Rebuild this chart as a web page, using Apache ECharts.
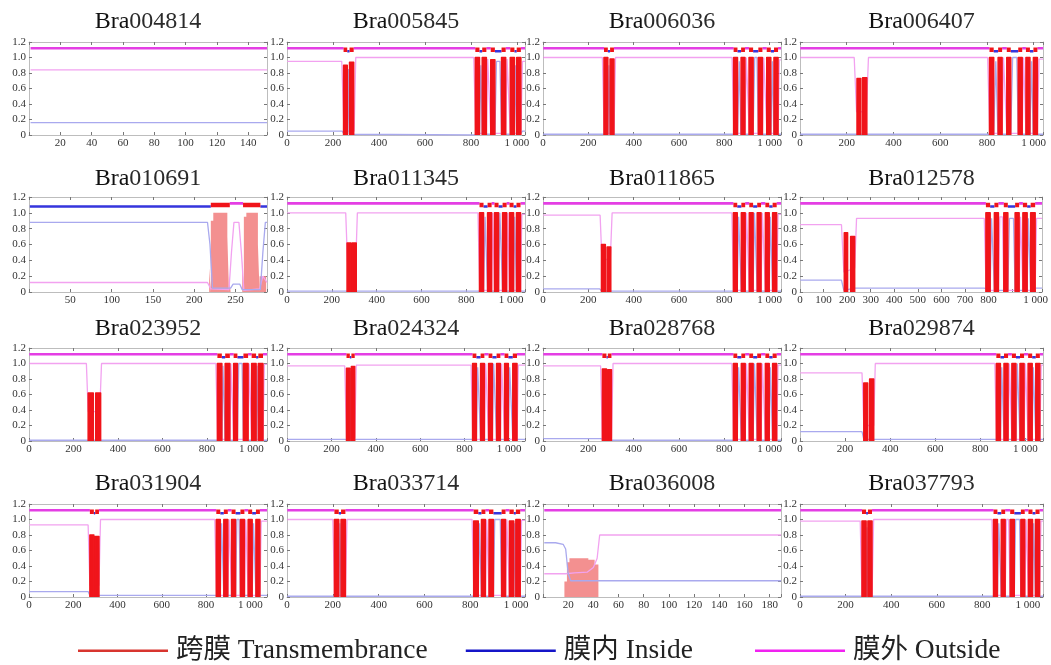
<!DOCTYPE html>
<html>
<head>
<meta charset="utf-8">
<script src="https://cdn.jsdelivr.net/npm/echarts@6/dist/echarts.min.js"></script>
<style>
  html, body { margin: 0; padding: 0; background: #fff; }
  #chart { width: 1051px; height: 665px; }
</style>
</head>
<body>
<div id="chart"></div>
<script>
// ---- TMHMM posterior probability profiles, one panel per gene ----

const genes = ['Bra004814', 'Bra005845', 'Bra006036', 'Bra006407',
               'Bra010691', 'Bra011345', 'Bra011865', 'Bra012578',
               'Bra023952', 'Bra024324', 'Bra028768', 'Bra029874',
               'Bra031904', 'Bra033714', 'Bra036008', 'Bra037793'];

// protein length (x-axis extent), x tick spacing and tick labels left blank
const seqLength = [152, 1035, 1050, 1040, 288, 1062, 1050, 1027,
                   1070, 1072, 1050, 1078, 1075, 1039, 189, 1066];
const xTickStep = [20, 200, 200, 200, 50, 200, 200, 100,
                   200, 200, 200, 200, 200, 200, 20, 200];
const xTickHidden = [[0], [], [], [], [0], [], [], [900],
                     [], [], [], [], [], [], [0], []];

// transmembrane probability: [start, end, probability]
const tmProb = [
  [],
  [[246,262,0.9],[272,290,0.94],[819,837,1.0],[849,867,1.0],[886,904,0.97],[933,951,1.0],[971,989,1.0],[999,1017,1.0]],
  [[269,286,1.0],[296,313,0.98],[841,858,1.0],[874,891,1.0],[909,927,1.0],[950,968,1.0],[987,1005,1.0],[1019,1037,1.0]],
  [[244,260,0.73],[268,286,0.74],[811,829,1.0],[848,865,1.0],[885,902,1.0],[934,951,1.0],[967,984,1.0],[999,1016,1.0]],
  [[218,220,0.3],[220,223,0.9],[223,240,1.0],[240,242,0.7],[242,244,0.2],[258,260,0.4],[260,263,0.95],[263,277,1.0],[277,279,0.6],[279,287,0.2]],
  [[268,285,0.62],[291,309,0.62],[859,877,1.0],[895,913,1.0],[926,944,1.0],[962,980,1.0],[993,1011,1.0],[1024,1042,1.0]],
  [[258,275,0.6],[283,299,0.57],[840,857,1.0],[875,892,1.0],[910,927,1.0],[945,962,1.0],[981,998,1.0],[1013,1031,1.0]],
  [[188,202,0.75],[215,232,0.7],[789,807,1.0],[825,842,1.0],[865,882,1.0],[913,930,1.0],[946,964,1.0],[979,998,1.0]],
  [[266,289,0.62],[300,322,0.62],[847,867,1.0],[882,903,1.0],[920,937,1.0],[964,985,1.0],[1001,1021,1.0],[1031,1052,1.0]],
  [[268,283,0.94],[290,305,0.96],[836,853,1.0],[872,889,1.0],[908,925,1.0],[944,961,1.0],[980,997,1.0],[1017,1036,1.0]],
  [[262,280,0.93],[286,302,0.92],[840,857,1.0],[875,892,1.0],[910,927,1.0],[945,962,1.0],[981,998,1.0],[1013,1031,1.0]],
  [[283,300,0.75],[309,327,0.8],[871,889,1.0],[905,923,1.0],[940,958,1.0],[976,994,1.0],[1012,1030,1.0],[1046,1064,1.0]],
  [[275,293,0.8],[299,316,0.78],[846,864,1.0],[880,898,1.0],[915,933,1.0],[955,973,1.0],[990,1008,1.0],[1025,1043,1.0]],
  [[207,226,1.0],[236,255,1.0],[815,835,0.98],[849,866,1.0],[882,901,1.0],[937,954,1.0],[971,990,0.98],[999,1018,1.0]],
  [[9,17,0.02],[17,19,0.2],[19,21,0.45],[21,36,0.5],[36,41,0.48],[41,44,0.42]],
  [[272,290,0.98],[298,316,0.98],[849,866,1.0],[883,900,1.0],[922,940,1.0],[969,986,1.0],[1002,1020,1.0],[1033,1051,1.0]]
];

// predicted helices shown in the topology bar, and the side of the N-terminus
const topology = [
  [],
  [[246,262],[272,290],[819,837],[849,867],[886,904],[933,951],[971,989],[999,1017]],
  [[269,286],[296,313],[841,858],[874,891],[909,927],[950,968],[987,1005],[1019,1037]],
  [[811,829],[848,865],[885,902],[934,951],[967,984],[999,1016]],
  [[220,243],[259,280]],
  [[859,877],[895,913],[926,944],[962,980],[993,1011],[1024,1042]],
  [[840,857],[875,892],[910,927],[945,962],[981,998],[1013,1031]],
  [[789,807],[825,842],[865,882],[913,930],[946,964],[979,998]],
  [[847,867],[882,903],[920,937],[964,985],[1001,1021],[1031,1052]],
  [[268,283],[290,305],[836,853],[872,889],[908,925],[944,961],[980,997],[1017,1036]],
  [[262,280],[286,302],[840,857],[875,892],[910,927],[945,962],[981,998],[1013,1031]],
  [[871,889],[905,923],[940,958],[976,994],[1012,1030],[1046,1064]],
  [[275,293],[299,316],[846,864],[880,898],[915,933],[955,973],[990,1008],[1025,1043]],
  [[207,226],[236,255],[815,835],[849,866],[882,901],[937,954],[971,990],[999,1018]],
  [],
  [[272,290],[298,316],[849,866],[883,900],[922,940],[969,986],[1002,1020],[1033,1051]]
];
const nTermSide = ['o','o','o','o','i','o','o','o','o','o','o','o','o','o','o','o'];

// outside probability curve: [residue, probability]
const outsideProb = [
  [[1,0.84],[152,0.84]],
  [[1,0.95],[238,0.95],[248,0.05],[292,0.05],[299,1],[812,1],[821,0.02],[867,0.02],[873,0.98],[880,0.98],[886,0.02],[951,0.02],[957,0.98],[965,0.98],[971,0.02],[1017,0.02],[1024,0.95],[1035,0.95]],
  [[1,1],[262,1],[270,0.02],[313,0.02],[320,1],[834,1],[842,0.02],[891,0.02],[897,1],[904,1],[910,0.02],[968,0.02],[974,1],[982,1],[988,0.02],[1037,0.02],[1043,0.97],[1050,0.97]],
  [[1,1],[232,1],[242,0.3],[284,0.3],[293,1],[803,1],[812,0.02],[865,0.02],[871,1],[879,1],[885,0.02],[951,0.02],[957,1],[962,1],[967,0.02],[1016,0.02],[1023,0.98],[1040,0.98]],
  [[1,0.12],[216,0.12],[220,0.04],[242,0.03],[245,0.5],[248,0.88],[254,0.88],[257,0.5],[260,0.02],[279,0.04],[283,0.2],[288,0.12]],
  [[1,1],[262,1],[270,0.38],[307,0.38],[314,1],[852,1],[860,0.02],[913,0.02],[918,1],[922,1],[926,0.02],[980,0.02],[985,1],[989,1],[993,0.02],[1042,0.02],[1048,0.98],[1062,0.98]],
  [[1,0.97],[252,0.97],[260,0.4],[297,0.42],[305,1],[833,1],[841,0.02],[892,0.02],[898,1],[904,1],[910,0.02],[962,0.02],[968,1],[975,1],[981,0.02],[1031,0.02],[1037,0.98],[1050,0.98]],
  [[1,0.85],[176,0.85],[186,0.25],[232,0.3],[240,0.93],[782,0.93],[790,0.02],[842,0.02],[848,0.95],[859,0.95],[865,0.02],[930,0.02],[936,0.95],[940,0.95],[946,0.02],[998,0.02],[1004,0.93],[1027,0.93]],
  [[1,1],[258,1],[266,0.38],[318,0.38],[326,1],[840,1],[848,0.02],[903,0.02],[908,1],[915,1],[920,0.02],[985,0.02],[990,1],[996,1],[1001,0.02],[1052,0.02],[1058,0.99],[1070,0.99]],
  [[1,0.97],[260,0.97],[268,0.04],[305,0.04],[312,0.98],[829,0.98],[837,0.02],[889,0.02],[895,1],[902,1],[908,0.02],[961,0.02],[967,1],[974,1],[980,0.02],[1036,0.02],[1042,0.98],[1072,0.98]],
  [[1,0.97],[254,0.97],[262,0.04],[302,0.04],[309,1],[833,1],[841,0.02],[892,0.02],[898,1],[904,1],[910,0.02],[962,0.02],[968,1],[975,1],[981,0.02],[1031,0.02],[1037,0.98],[1050,0.98]],
  [[1,0.88],[275,0.88],[283,0.2],[327,0.2],[334,1],[864,1],[872,0.02],[923,0.02],[929,1],[934,1],[940,0.02],[994,0.02],[1000,1],[1006,1],[1012,0.02],[1064,0.02],[1070,0.98],[1078,0.98]],
  [[1,0.93],[267,0.93],[275,0.15],[316,0.15],[323,1],[839,1],[847,0.02],[898,0.02],[904,1],[909,1],[915,0.02],[973,0.02],[979,1],[984,1],[990,0.02],[1043,0.02],[1049,0.98],[1075,0.98]],
  [[1,1],[200,1],[208,0.02],[255,0.02],[262,1],[808,1],[816,0.02],[866,0.02],[872,1],[877,1],[882,0.02],[954,0.02],[960,1],[966,1],[971,0.02],[1018,0.02],[1024,0.99],[1039,0.99]],
  [[1,0.3],[18,0.3],[25,0.31],[35,0.32],[40,0.38],[43,0.5],[45,0.8],[189,0.8]],
  [[1,0.98],[264,0.98],[272,0.02],[316,0.02],[323,1],[842,1],[850,0.02],[900,0.02],[906,1],[915,1],[922,0.02],[986,0.02],[992,1],[997,1],[1002,0.02],[1051,0.02],[1057,0.98],[1066,0.98]]
];

// inside probability curve: [residue, probability]
const insideProb = [
  [[1,0.16],[152,0.16]],
  [[1,0.05],[240,0.05],[248,0.01],[263,0.01],[267,0.85],[271,0.01],[812,0],[837,0.01],[843,0.9],[849,0.01],[904,0.01],[911,0.95],[926,0.95],[933,0.01],[989,0.01],[994,0.9],[999,0.01],[1017,0.02],[1024,0.05],[1035,0.05]],
  [[1,0.01],[286,0.01],[291,0.9],[296,0.01],[858,0.01],[866,0.95],[873,0.01],[927,0.01],[934,1],[944,1],[950,0.01],[1005,0.01],[1012,0.95],[1018,0.01],[1050,0.01]],
  [[1,0.01],[829,0.01],[838,0.95],[847,0.01],[902,0.01],[910,1],[928,1],[934,0.01],[984,0.01],[991,0.95],[998,0.01],[1040,0.01]],
  [[1,0.88],[216,0.88],[219,0.6],[222,0.05],[244,0.05],[247,0.1],[255,0.1],[258,0.03],[280,0.03],[283,0.5],[286,0.88],[288,0.88]],
  [[1,0.01],[877,0.01],[884,0.95],[890,0.95],[895,0.01],[944,0.01],[950,1],[957,1],[962,0.01],[1011,0.01],[1016,0.95],[1020,0.95],[1024,0.01],[1062,0.01]],
  [[1,0.04],[250,0.04],[260,0.01],[857,0.01],[863,0.95],[869,0.95],[875,0.01],[927,0.01],[933,1],[939,1],[945,0.01],[998,0.01],[1003,0.95],[1008,0.95],[1013,0.01],[1050,0.01]],
  [[1,0.15],[176,0.15],[186,0.02],[232,0.05],[240,0.05],[782,0.05],[807,0.02],[813,0.93],[819,0.93],[825,0.02],[882,0.02],[889,0.93],[906,0.93],[913,0.02],[964,0.02],[969,0.93],[974,0.93],[979,0.02],[998,0.05],[1027,0.05]],
  [[1,0.01],[867,0.01],[872,0.97],[877,0.97],[882,0.01],[937,0.01],[943,1],[958,1],[964,0.01],[1021,0.01],[1025,0.97],[1027,0.97],[1031,0.01],[1070,0.01]],
  [[1,0.02],[283,0.02],[286,0.9],[290,0.02],[853,0.02],[859,0.95],[866,0.95],[872,0.02],[925,0.02],[931,1],[938,1],[944,0.02],[997,0.02],[1003,0.95],[1011,0.95],[1017,0.02],[1072,0.02]],
  [[1,0.03],[254,0.03],[262,0.01],[280,0.01],[283,0.9],[286,0.01],[857,0.01],[863,0.95],[869,0.95],[875,0.01],[927,0.01],[933,1],[939,1],[945,0.01],[998,0.01],[1003,0.95],[1008,0.95],[1013,0.01],[1050,0.01]],
  [[1,0.12],[275,0.12],[283,0.02],[889,0.02],[895,0.95],[899,0.95],[905,0.02],[958,0.02],[964,1],[970,1],[976,0.02],[1030,0.02],[1035,0.95],[1040,0.95],[1046,0.02],[1078,0.02]],
  [[1,0.07],[267,0.07],[275,0.02],[293,0.02],[296,0.6],[299,0.02],[864,0.02],[870,0.95],[874,0.95],[880,0.02],[933,0.02],[939,1],[949,1],[955,0.02],[1008,0.02],[1014,0.95],[1019,0.95],[1025,0.02],[1075,0.02]],
  [[1,0.01],[226,0.01],[231,0.95],[236,0.01],[835,0.01],[840,0.95],[844,0.95],[849,0.01],[901,0.01],[907,1],[931,1],[937,0.01],[990,0.01],[994,0.95],[996,0.95],[999,0.01],[1039,0.01]],
  [[1,0.7],[10,0.7],[16,0.68],[18,0.62],[20,0.3],[22,0.21],[189,0.21]],
  [[1,0.01],[290,0.01],[294,0.9],[298,0.01],[866,0.01],[872,0.95],[878,0.95],[883,0.01],[940,0.01],[946,1],[963,1],[969,0.01],[1020,0.01],[1025,0.95],[1028,0.95],[1033,0.01],[1066,0.01]]
];

const legendNames = ['跨膜 Transmembrance', '膜内 Inside', '膜外 Outside'];

// ---- layout & style ----
const SERIF = "'Liberation Serif', 'DejaVu Serif', 'Noto Sans CJK SC', serif";
const COL_LEFT = [29, 287, 543, 800];
const COL_W = [238, 238, 238, 243];
const ROW_TOP = [42, 197, 348, 504];
const ROW_H = [93, 95, 93, 93];
const TITLE_TOP = [10, 167, 317, 472];

const C_TM = '#f0141a', C_TM_SOFT = '#f39090';
const C_OUT_BAR = '#e43ee4', C_IN_BAR = '#3535dd';
const C_OUT_P = '#f2a2f0', C_IN_P = '#a9a9ee';
const LEVEL_OUT = 1.12, LEVEL_TM = 1.1, LEVEL_IN = 1.08;
const FRAME = '#bdbdbd';

function tmArea(list) {
  const pts = [];
  list.forEach(([s, e, p]) => { pts.push([s, 0], [s, p], [e, p], [e, 0], [e, '-']); });
  return pts;
}

function topologyBars(i) {
  const len = seqLength[i];
  const out = [], ins = [], tm = [];
  let side = nTermSide[i], pos = 1;
  const seg = (arr, a, b, y) => arr.push([a, y], [b, y], [b, '-']);
  topology[i].forEach(([s, e]) => {
    if (side === 'o') seg(out, pos, s, LEVEL_OUT); else seg(ins, pos, s, LEVEL_IN);
    seg(tm, s, e, LEVEL_TM);
    side = side === 'o' ? 'i' : 'o';
    pos = e;
  });
  if (side === 'o') seg(out, pos, len, LEVEL_OUT); else seg(ins, pos, len, LEVEL_IN);
  return { out, ins, tm };
}

const fmtThousands = v => String(v).replace(/\B(?=(\d{3})+(?!\d))/g, ' ');

const grids = [], xAxes = [], yAxes = [], titles = [], series = [];

genes.forEach((g, i) => {
  const r = Math.floor(i / 4), c = i % 4;
  const len = seqLength[i], step = xTickStep[i];
  const shortSeq = len < 400;
  const xi = 2 * i;

  grids.push({ left: COL_LEFT[c], top: ROW_TOP[r], width: COL_W[c], height: ROW_H[r] });

  titles.push({
    text: '{a|Bra}{b|' + g.slice(3) + '}',
    left: COL_LEFT[c] + COL_W[c] / 2, top: TITLE_TOP[r], textAlign: 'center', padding: 0,
    textStyle: { fontWeight: 'normal', rich: {
      a: { fontFamily: SERIF, fontSize: 24, fontWeight: 'normal', color: '#111' },
      b: { fontFamily: SERIF, fontSize: 24, fontWeight: 'normal', color: '#2a2a2a' }
    } }
  });

  const frame = { show: true, onZero: false, lineStyle: { color: FRAME, width: 1 } };
  const ticks = { show: true, inside: true, length: 3, lineStyle: { color: '#777' } };

  xAxes.push({
    gridIndex: i, type: 'value', min: 0, max: len, interval: step,
    axisLine: frame, axisTick: ticks, splitLine: { show: false },
    axisLabel: {
      margin: 3, fontFamily: SERIF, fontSize: 11, color: '#333',
      formatter: v => (v % step !== 0 || xTickHidden[i].includes(v)) ? '' : fmtThousands(v)
    }
  });
  xAxes.push({
    gridIndex: i, type: 'value', position: 'top', min: 0, max: len, interval: step,
    axisLine: frame, axisTick: ticks, splitLine: { show: false }, axisLabel: { show: false }
  });
  yAxes.push({
    gridIndex: i, type: 'value', min: 0, max: 1.2, interval: 0.2,
    axisLine: frame, axisTick: ticks, splitLine: { show: false },
    axisLabel: {
      margin: 3, fontFamily: SERIF, fontSize: 11, color: '#333',
      formatter: v => v === 0 ? '0' : v.toFixed(1)
    }
  });
  yAxes.push({
    gridIndex: i, type: 'value', position: 'right', min: 0, max: 1.2, interval: 0.2,
    axisLine: frame, axisTick: ticks, splitLine: { show: false }, axisLabel: { show: false }
  });

  const base = { type: 'line', xAxisIndex: xi, yAxisIndex: xi, symbol: 'none', silent: true, animation: false };
  const probZ = shortSeq ? 4 : 2;

  series.push({ ...base, z: probZ, data: outsideProb[i], lineStyle: { color: C_OUT_P, width: 1.3 } });
  series.push({ ...base, z: probZ, data: insideProb[i], lineStyle: { color: C_IN_P, width: 1.3 } });
  series.push({
    ...base, z: 3, data: tmArea(tmProb[i]),
    lineStyle: shortSeq ? { width: 0, color: C_TM_SOFT } : { color: C_TM, width: 1.5, join: 'round' },
    areaStyle: { color: shortSeq ? C_TM_SOFT : C_TM, opacity: 1 }
  });

  const bars = topologyBars(i);
  series.push({ ...base, z: 5, data: bars.out, lineStyle: { color: C_OUT_BAR, width: 2.6 } });
  series.push({ ...base, z: 5, data: bars.ins, lineStyle: { color: C_IN_BAR, width: 2.4 } });
  series.push({ ...base, z: 6, data: bars.tm, lineStyle: { color: C_TM, width: 4.5, cap: 'butt' } });
});

// legend entries
const legendColors = ['#d8352f', '#1515c8', '#f022f0'];
legendNames.forEach((n, k) => {
  series.push({ name: n, type: 'line', xAxisIndex: 0, yAxisIndex: 0, data: [],
    itemStyle: { color: legendColors[k] }, lineStyle: { color: legendColors[k] } });
});

const legendBase = {
  top: 637, padding: 0, icon: 'rect', itemWidth: 90, itemHeight: 2.5, itemGap: 38, selectedMode: false,
  textStyle: { fontFamily: SERIF, fontSize: 27.5, color: '#222', padding: [0, 0, 0, 3] }
};

const chart = echarts.init(document.getElementById('chart'), null, { renderer: 'canvas' });
chart.setOption({
  backgroundColor: '#fff',
  animation: false,
  title: titles,
  grid: grids,
  xAxis: xAxes,
  yAxis: yAxes,
  legend: [
    { ...legendBase, data: legendNames.slice(0, 2), left: 78 },
    { ...legendBase, data: legendNames.slice(2), left: 755 }
  ],
  series: series
});
</script>
</body>
</html>
